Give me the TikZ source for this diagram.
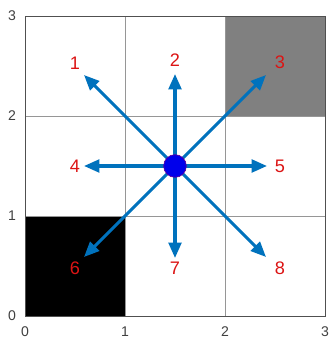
\documentclass[tikz,border=0pt]{standalone}
\usepackage{fontspec}
\setmainfont{Liberation Sans}
\usepackage{tikz}
\usetikzlibrary{arrows.meta,positioning,calc}
\definecolor{arrowblue}{RGB}{0,114,189}
\definecolor{labelred}{RGB}{220,20,20}
\definecolor{gridgray}{RGB}{150,150,150}
\definecolor{axisgray}{RGB}{80,80,80}
\definecolor{cellgray}{RGB}{128,128,128}
\tikzset{
  gridline/.style={draw=gridgray,line width=0.6pt},
  dirarrow/.style={-{Triangle[length=4.6mm,width=3.8mm]},draw=arrowblue,line width=2.6pt},
  dirlabel/.style={text=labelred,font=\fontsize{15.5}{17}\selectfont,inner sep=0pt},
  ticklabel/.style={text=black!75,font=\fontsize{12}{14}\selectfont,inner sep=0pt},
  agent/.style={circle,fill=blue!92!black,draw=blue!50!purple,line width=0.6pt,minimum size=6.8mm,inner sep=0pt},
}

\begin{document}
\begin{tikzpicture}[x=3cm,y=3cm]
  \useasboundingbox (-0.25,-0.22) rectangle (3.05,3.16);
  % cells
  \fill[white] (0,0) rectangle (3,3);
  \fill[black] (0,0) rectangle (1,1);
  \fill[cellgray] (2,2) rectangle (3,3);
  \foreach \k in {1,2} {
    \draw[gridline] (\k,0) -- (\k,3);
    \draw[gridline] (0,\k) -- (3,\k);
  }
  \draw[draw=axisgray,line width=0.7pt] (0,0) rectangle (3,3);
  % tick labels
  \foreach \k in {0,1,2,3} {
    \node[ticklabel] (xt\k) at (\k,-0.155) {\k};
    \node[ticklabel] (yt\k) at (-0.13,\k) {\k};
  }
  % agent and moves
  \coordinate (c) at (1.5,1.5);
  \coordinate (t1) at (0.59,2.41);
  \coordinate (t2) at (1.5,2.42);
  \coordinate (t3) at (2.41,2.41);
  \coordinate (t4) at (0.59,1.5);
  \coordinate (t5) at (2.42,1.5);
  \coordinate (t6) at (0.59,0.59);
  \coordinate (t7) at (1.5,0.58);
  \coordinate (t8) at (2.41,0.59);
  \foreach \k in {1,...,8}
    \draw[dirarrow] (c) -- (t\k);
  \node[agent] (ag) at (c) {};
  \node[dirlabel] (l1) at (0.5,2.53) {1};
  \node[dirlabel] (l2) at (1.5,2.56) {2};
  \node[dirlabel] (l3) at (2.55,2.54) {3};
  \node[dirlabel] (l4) at (0.5,1.5) {4};
  \node[dirlabel] (l5) at (2.55,1.5) {5};
  \node[dirlabel] (l6) at (0.5,0.48) {6};
  \node[dirlabel] (l7) at (1.5,0.48) {7};
  \node[dirlabel] (l8) at (2.55,0.48) {8};
\end{tikzpicture}
\end{document}
